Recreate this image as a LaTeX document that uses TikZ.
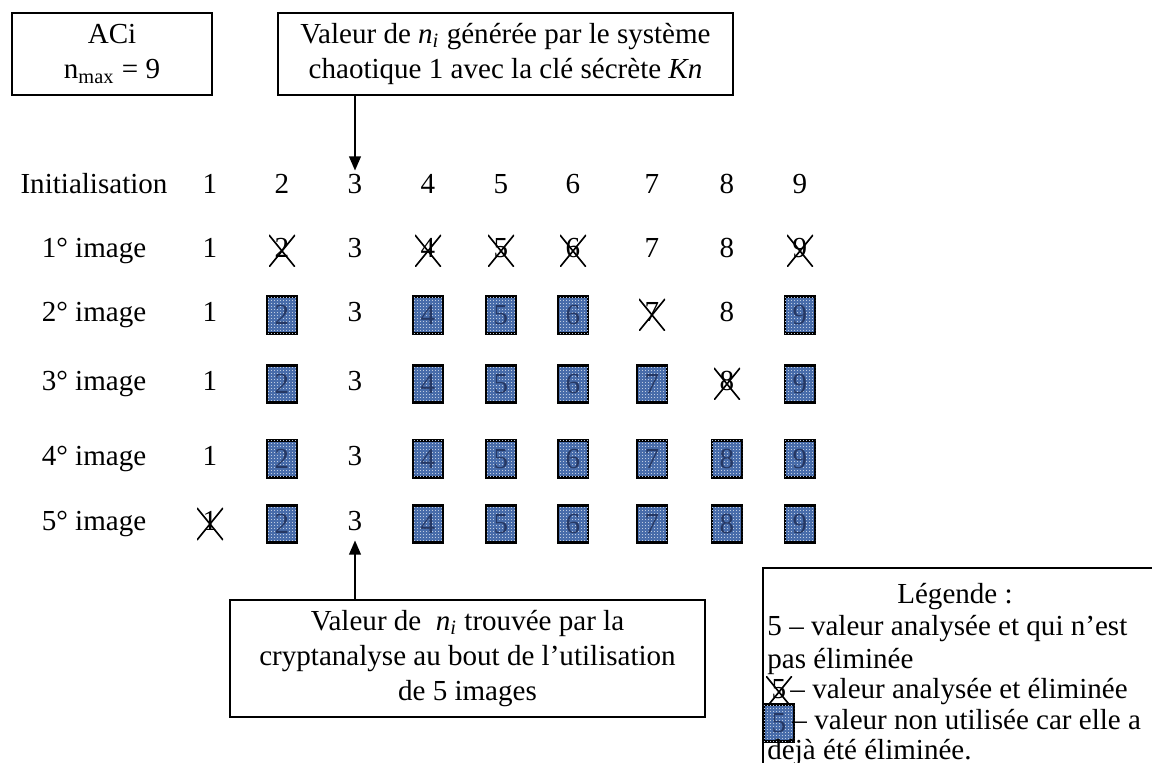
\documentclass[tikz,border=0pt]{standalone}
\usepackage{fontspec}
\setmainfont{Liberation Serif}
\usetikzlibrary{arrows.meta,positioning,patterns}
\definecolor{cellblue}{RGB}{72,108,170}
\definecolor{cellnum}{RGB}{38,56,100}
\newcommand{\nsub}{\textit{n}\textsubscript{\textit{i}}}
\pgfdeclarepatternformonly{finedots}{\pgfqpoint{0pt}{0pt}}{\pgfqpoint{1.3pt}{1.3pt}}{\pgfqpoint{1.3pt}{1.3pt}}{
  \pgfpathrectangle{\pgfqpoint{0pt}{0pt}}{\pgfqpoint{0.45pt}{0.45pt}}\pgfusepath{fill}}
\tikzset{
  txtbox/.style={draw, line width=0.6pt, align=center, inner sep=2pt,
                 minimum width=#1, minimum height=1.23cm},
  rowlab/.style={text height=8.5pt, text depth=3pt},
  num/.style   ={inner sep=1pt, minimum width=0.39cm, minimum height=0.48cm,
                 text height=8.5pt, text depth=3pt},
  celln/.style ={num},
  cellx/.style ={num, path picture={
                 \draw[line width=0.7pt]
                   (path picture bounding box.north west) -- (path picture bounding box.south east)
                   (path picture bounding box.north east) -- (path picture bounding box.south west);}},
  cellb/.style ={draw, line width=1pt, fill=cellblue,
                 postaction={pattern=finedots, pattern color=white!65!cellblue},
                 minimum width=0.45cm, minimum height=0.555cm, inner sep=0pt, text=cellnum},
  legtxt/.style={anchor=west, inner sep=0pt},
  arr/.style   ={-{Triangle[length=6pt,width=5pt]}, line width=0.7pt},
}

\begin{document}
\begin{tikzpicture}[x=0.015cm, y=-0.015cm, font=\fontsize{12.4}{15}\selectfont]
  \useasboundingbox (0,0) rectangle (1152,763);
  % top boxes
  \node[txtbox=3cm] (aci) at (112,54) {ACi\\n\textsubscript{max} = 9};
  \node[txtbox=6.825cm] (gen) at (505.5,54)
    {Valeur de \nsub{} générée par le système\\chaotique 1 avec la clé sécrète \textit{Kn}};
  % grid of values
  \foreach \r/\yy/\lab/\st in {
      0/187/Initialisation/{n,n,n,n,n,n,n,n,n},
      1/251/1° image/{n,x,n,x,x,x,n,n,x},
      2/315/2° image/{n,b,n,b,b,b,x,n,b},
      3/384/3° image/{n,b,n,b,b,b,b,x,b},
      4/459/4° image/{n,b,n,b,b,b,b,b,b},
      5/524/5° image/{x,b,n,b,b,b,b,b,b}} {
    \node[rowlab] (lab\r) at (94,\yy) {\lab};
    \foreach \s [count=\c] in \st {
      \pgfmathsetmacro\xx{{210,282,355,428,501,573,652,727,800}[\c-1]}
      \node[cell\s] (r\r-\c) at (\xx,\yy) {\c};
    }
  }
  % bottom box
  \node[txtbox=7.125cm, minimum height=1.755cm] (found) at (467.5,658.5)
    {Valeur de \ \nsub{} trouvée par la\\cryptanalyse au bout de l'utilisation\\de 5 images};
  \draw[arr] (gen.south -| r0-3) -- (r0-3.north);
  \draw[arr] (found.north -| r5-3) -- (r5-3.south);
  % legend
  \coordinate (legtl) at (763,568);
  \coordinate (legtr) at (1152,568);
  \coordinate (legbl) at (763,763);
  \draw[line width=0.8pt] (legtr) -- (legtl) -- (legbl);
  \node (legtitle) at (955,597) {Légende :};
  \node[legtxt] (leg1) at (767,629) {5 -- valeur analysée et qui n'est};
  \node[legtxt] (leg2) at (767,661) {pas éliminée};
  \node[cellx] (legx) at (779,692) {5};
  \node[legtxt] (legxt) at (790,692) {-- valeur analysée et éliminée};
  \node[cellb] (legb) at (779,723) {5};
  \node[legtxt] (legbt) at (792,720) {-- valeur non utilisée car elle a};
  \node[legtxt] (leg3) at (767,752) {déjà été éliminée.};
\end{tikzpicture}
\end{document}
